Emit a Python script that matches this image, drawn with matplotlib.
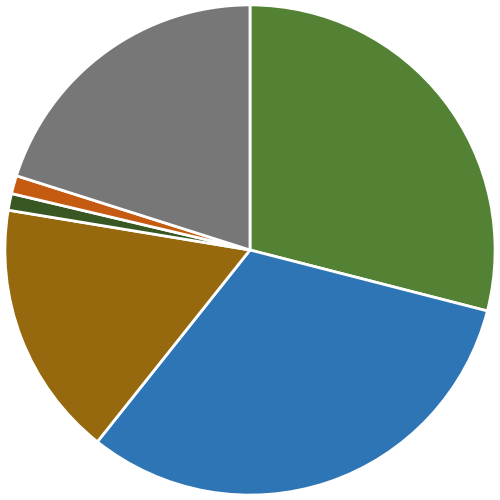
import matplotlib.pyplot as plt

# slice values (%), clockwise from 12 o'clock
labels = ["Green", "Blue", "Brown", "Dark green", "Orange", "Gray"]
values = [29.0, 31.7, 16.9, 1.1, 1.2, 20.1]
colors = ["#548235", "#2E75B6", "#97690F", "#385723", "#C55A11", "#777777"]

fig = plt.figure(figsize=(5, 5), dpi=100)
ax = fig.add_axes([0, 0, 1, 1])
ax.pie(values, colors=colors, startangle=90, counterclock=False,
       wedgeprops=dict(edgecolor="white", linewidth=2))
ax.set_xlim(-1.02, 1.02)
ax.set_ylim(-1.02, 1.02)
ax.set_aspect("equal")
ax.axis("off")

fig.savefig("out.png", dpi=100)
